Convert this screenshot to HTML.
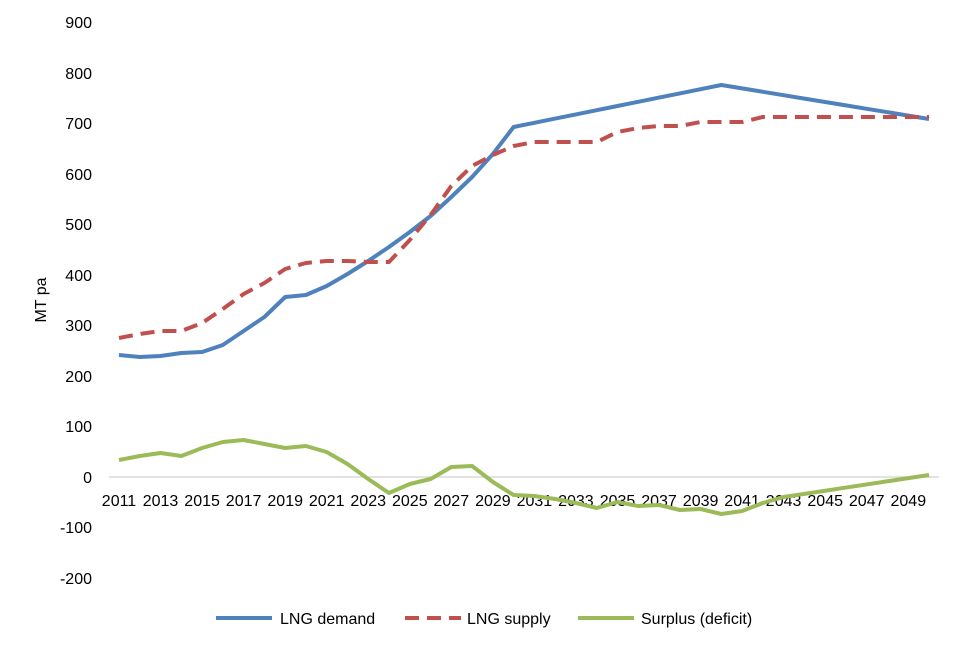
<!DOCTYPE html>
<html><head><meta charset="utf-8"><style>body{margin:0;background:#fff}svg{display:block;font-family:"Liberation Sans",sans-serif}</style></head><body>
<svg width="970" height="650" xmlns="http://www.w3.org/2000/svg">
<line x1="109" y1="477" x2="939" y2="477" stroke="#d9d9d9" stroke-width="1.5"/>
<g font-size="16" fill="#000" text-anchor="end">
<text x="92" y="28">900</text><text x="92" y="79">800</text><text x="92" y="129">700</text><text x="92" y="180">600</text><text x="92" y="230">500</text><text x="92" y="281">400</text><text x="92" y="331">300</text><text x="92" y="382">200</text><text x="92" y="432">100</text><text x="92" y="483">0</text><text x="92" y="533">-100</text><text x="92" y="584">-200</text>
</g>
<text transform="translate(46,300) rotate(-90)" font-size="16" text-anchor="middle">MT pa</text>
<g id="xl" font-size="16" text-anchor="middle"></g>
<polyline id="d" fill="none" stroke="#4F81BD" stroke-width="4" stroke-linejoin="round"/>
<polyline id="s" fill="none" stroke="#C0504D" stroke-width="4" stroke-dasharray="14,8" stroke-linejoin="round"/>
<polyline id="g" fill="none" stroke="#9BBB59" stroke-width="4" stroke-linejoin="round"/>
<line x1="216" y1="618" x2="272" y2="618" stroke="#4F81BD" stroke-width="4"/>
<text x="280" y="624" font-size="16">LNG demand</text>
<line x1="405" y1="618" x2="461" y2="618" stroke="#C0504D" stroke-width="4" stroke-dasharray="14,8"/>
<text x="467" y="624" font-size="16">LNG supply</text>
<line x1="578" y1="618" x2="634" y2="618" stroke="#9BBB59" stroke-width="4"/>
<text x="641" y="624" font-size="16">Surplus (deficit)</text>
</svg>
<script>
var X=i=>119+i*20.77;
var d=[355,357,356,353,352,345,331,317,297,295,286,274,261,247,232,216,197,177,154,127];
for(var i=1;i<=10;i++)d.push(127+(85-127)*i/10);
for(var i=1;i<=10;i++)d.push(85+(119-85)*i/10);
var s=[338,334,331,331,323,309,294,283,269,263,261,261,262,262,240,215,186,166,155,146,142,142,142,142,132,128,126,126,122,122,122,117,117,117,117,117,117,117,117,117];
var g=[460,456,453,456,448,442,440,444,448,446,452,464,479,493,484,479,467,466,482,495,496,499,503,508,502,506,505,510,509,514,511,503,497];
for(var i=1;i<=7;i++)g.push(497+(475-497)*i/7);
function p(id,a){document.getElementById(id).setAttribute('points',a.map((y,i)=>X(i).toFixed(1)+','+y).join(' '));}
p('d',d);p('s',s);p('g',g);
var xl=document.getElementById('xl'),h='';
for(var i=0;i<40;i+=2)h+='<text x="'+X(i).toFixed(1)+'" y="506">'+(2011+i)+'</text>';
xl.innerHTML=h;
</script>
</body></html>
